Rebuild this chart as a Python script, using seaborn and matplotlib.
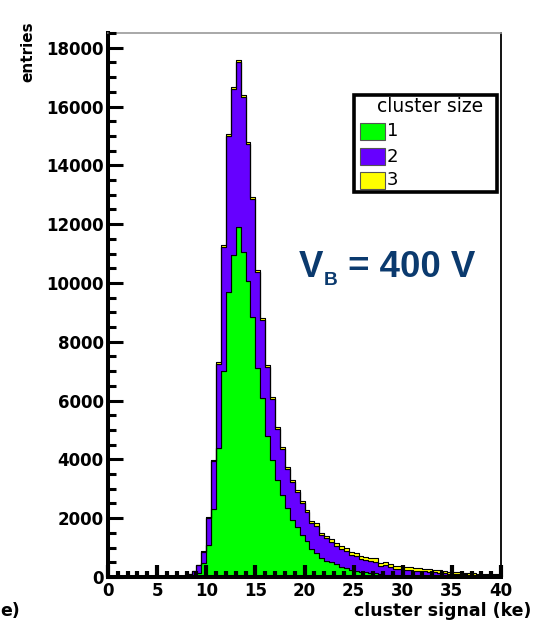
import numpy as np
import pandas as pd
import matplotlib
matplotlib.use("Agg")
import matplotlib.pyplot as plt
import seaborn as sns
from matplotlib.patches import Rectangle
from matplotlib.ticker import MultipleLocator

# ---------------- data (entries per 0.5 ke bin, bins starting at 8.0 ke) ----------------
bin_width = 0.5
first_bin = 8.0
size1 = [20, 60, 150, 466, 1090, 2300, 4375, 7000, 9700, 10950,
         11890, 11060, 10070, 8850, 7100, 6080, 4790, 3980, 3300, 2790,
         2335, 1940, 1710, 1430, 1220, 940, 830, 660, 560, 500,
         430, 330, 290, 240, 190, 180, 165, 140, 120, 100,
         85, 70, 60, 50, 42, 35, 30, 25, 22, 18,
         15, 12, 10, 9, 7, 6, 5, 4, 4, 3,
         3, 2, 2, 2]
size2 = [70, 160, 255, 392, 915, 1635, 2870, 4225, 5290, 5645,
         5610, 5255, 4655, 3990, 3270, 2650, 2350, 2080, 1740, 1565,
         1340, 1285, 1175, 1080, 980, 900, 920, 770, 750, 705,
         635, 625, 590, 520, 515, 445, 420, 410, 405, 270,
         325, 255, 220, 220, 205, 200, 190, 182, 170, 160,
         145, 138, 125, 108, 100, 96, 88, 79, 74, 65,
         65, 57, 57, 52]
size3 = [0, 0, 5, 12, 25, 45, 55, 65, 70, 75,
         80, 75, 75, 70, 70, 70, 70, 70, 70, 75,
         75, 75, 75, 80, 80, 80, 80, 80, 80, 85,
         85, 95, 95, 100, 100, 100, 105, 105, 105, 100,
         110, 105, 105, 105, 103, 95, 95, 88, 88, 82,
         80, 75, 70, 63, 63, 58, 57, 52, 47, 47,
         42, 41, 36, 36]
size_labels = ["1", "2", "3"]
size_colors = ["#00ff00", "#6600ff", "#ffff00"]
xticks = [0, 5, 10, 15, 20, 25, 30, 35, 40]
yticks = [0, 2000, 4000, 6000, 8000, 10000, 12000, 14000, 16000, 18000]

# ---------------- build table ----------------
n = len(size1)
centers = first_bin + bin_width * (np.arange(n) + 0.5)
df = pd.DataFrame({
    "signal": np.concatenate([centers, centers, centers]),
    "count": np.concatenate([size1, size2, size3]).astype(float),
    "size": [size_labels[0]] * n + [size_labels[1]] * n + [size_labels[2]] * n,
})

sns.set_theme(style="ticks")
plt.rcParams["font.family"] = ["DejaVu Sans"]
plt.rcParams["text.color"] = "black"
plt.rcParams["xtick.color"] = "black"
plt.rcParams["ytick.color"] = "black"
plt.rcParams["xtick.labelcolor"] = "black"
plt.rcParams["ytick.labelcolor"] = "black"

W, H = 540, 622
fig = plt.figure(figsize=(W / 100, H / 100), dpi=100)
fig.patch.set_facecolor("white")
ax = fig.add_axes([108 / W, 1 - 577 / H, (501 - 108) / W, (577 - 33) / H])
ax.set_facecolor("white")

palette = dict(zip(size_labels, size_colors))
sns.histplot(data=df, x="signal", weights="count", hue="size",
             hue_order=size_labels[::-1], multiple="stack",
             bins=80, binrange=(0, 40),
             element="step", fill=True, palette=palette, alpha=1,
             edgecolor="black", linewidth=0.8, legend=False, ax=ax)

ax.set_xlim(0, 40)
ax.set_ylim(0, 18500)
ax.set_xlabel("")
ax.set_ylabel("")
ax.set_axisbelow(False)

ax.set_xticks(xticks)
ax.set_yticks(yticks)
ax.xaxis.set_minor_locator(MultipleLocator(1))
ax.yaxis.set_minor_locator(MultipleLocator(500))
ax.tick_params(axis="x", which="major", direction="in", length=8.5, width=3.0,
               pad=3.5, labelsize=12, color="black", labelcolor="black")
ax.tick_params(axis="x", which="minor", direction="in", length=4.5, width=3.0, color="black")
ax.tick_params(axis="y", which="major", direction="in", length=11, width=2.2,
               pad=3, labelsize=12, color="black", labelcolor="black")
ax.tick_params(axis="y", which="minor", direction="in", length=6, width=2.2, color="black")
for lab in ax.get_xticklabels() + ax.get_yticklabels():
    lab.set_fontweight("bold")
    lab.set_color("black")

for side in ["left", "bottom"]:
    ax.spines[side].set_linewidth(2.9)
    ax.spines[side].set_color("black")
ax.spines["top"].set_linewidth(1.2)
ax.spines["top"].set_color("#9a9a9a")
ax.spines["right"].set_linewidth(1.3)
ax.spines["right"].set_color("black")

# axis titles
fig.text(531 / W, 1 - 611 / H, "cluster signal (ke)", ha="right", va="center",
         fontsize=12.5, fontweight="bold", color="black")
fig.text(28 / W, 1 - 52 / H, "entries", rotation=90, ha="center", va="center",
         fontsize=11, fontweight="bold", color="black")
fig.text(0 / W, 1 - 611 / H, "e)", ha="left", va="center", fontsize=12.5,
         fontweight="bold", color="black")

# annotation  V_B = 400 V
navy = "#0b3a6e"
t_v = fig.text(299 / W, 1 - 277 / H, "V", ha="left", va="baseline",
               fontsize=26.4, fontweight="bold", family="Liberation Sans", color=navy)
t_b = fig.text(0, 0, "", fontsize=1)
t_b = ax.annotate("B", xy=(1, 1 - 285 / H), xycoords=(t_v, "figure fraction"),
                  xytext=(0.5, 0), textcoords="offset points",
                  ha="left", va="baseline", fontsize=13.8, fontweight="bold",
                  family="Liberation Sans", color=navy, annotation_clip=False)
ax.annotate(" = 400 V", xy=(1, 1 - 277 / H), xycoords=(t_b, "figure fraction"),
            ha="left", va="baseline", fontsize=26.4, fontweight="bold",
            family="Liberation Sans", color=navy, annotation_clip=False)

# ROOT-style legend
def fx(px):
    return px / W

def fy(py):
    return 1 - py / H

fig.add_artist(Rectangle((fx(354), fy(192)), (497 - 354) / W, (192 - 95) / H,
                         transform=fig.transFigure, facecolor="white",
                         edgecolor="black", linewidth=2.6, zorder=10))
fig.text(fx(430), fy(107), "cluster size", ha="center", va="center",
         fontsize=13.5, zorder=11, color="black")
entry_tops = [123, 148, 172]
for lab, col, top in zip(size_labels, size_colors, entry_tops):
    fig.add_artist(Rectangle((fx(360), fy(top + 17)), 25 / W, 17 / H,
                             transform=fig.transFigure, facecolor=col,
                             edgecolor="#555555", linewidth=0.8, zorder=11))
    fig.text(fx(387), fy(top + 8.5), lab, ha="left", va="center",
             fontsize=13, zorder=11, color="black")

fig.savefig("out.png", dpi=100, facecolor="white")
